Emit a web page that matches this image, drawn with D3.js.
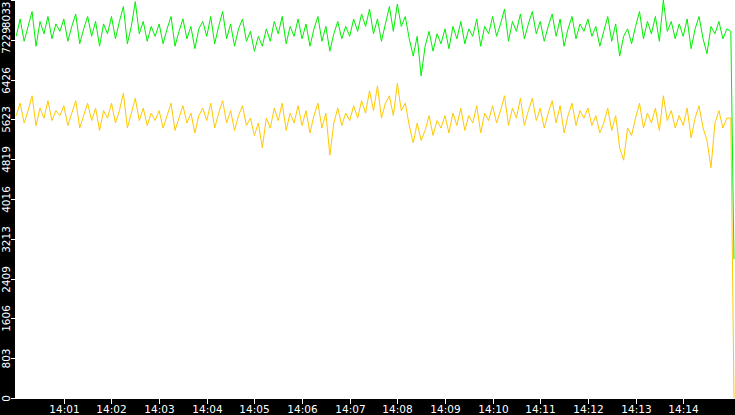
<!DOCTYPE html><html><head><meta charset="utf-8"><script src="https://cdn.jsdelivr.net/npm/d3@7"></script>
<style>body{margin:0;background:#fff}svg{display:block}</style></head><body><svg id="c" width="735" height="415"></svg><script>
const startTime = "14:00:00";
const stepSeconds = 5;
const greenValues = [
7300,7650,7200,7500,7800,7100,7600,7350,7700,7250,7550,7400,
7650,7200,7500,7750,7150,7450,7700,7300,7600,7100,7550,7350,
7700,7250,7600,7900,7150,7500,8000,7350,7600,7200,7500,7300,
7550,7150,7450,7700,7100,7400,7650,7250,7500,7050,7450,7600,
7300,7700,7150,7500,7800,7250,7550,7100,7450,7650,7200,7400,
7000,7300,7100,7450,7200,7600,7350,7700,7150,7500,7300,7650,
7250,7550,7100,7450,7700,7200,7500,7000,7350,7600,7250,7500,
7300,7650,7400,7750,7500,7850,7350,7650,7200,7550,7900,7400,
7950,7500,7700,7250,6900,7300,6500,7100,7400,7000,7350,7150,
7450,7050,7500,7250,7600,7150,7450,7300,7650,7100,7500,7350,
7700,7300,7550,7850,7200,7600,7400,7750,7250,7550,7800,7350,
7600,7200,7500,7750,7300,7650,7100,7450,7700,7250,7550,7400,
7650,7300,7500,7100,7400,7700,7200,7550,6900,7300,7450,7150,
7500,7800,7250,7600,7350,7700,7200,8030,7400,7600,7250,7550,
7300,7650,7050,7450,7700,7250,6950,7500,7350,7600,7250,7450,
7400];
const yellowValues = [
5700,5950,5550,5800,6100,5500,5850,5650,6000,5600,5800,5700,
5900,5500,5750,6000,5450,5700,5950,5600,5850,5400,5800,5650,
5950,5550,5800,6150,5450,5750,6050,5600,5850,5500,5750,5600,
5800,5450,5700,5950,5400,5650,5900,5550,5750,5350,5700,5850,
5600,5950,5450,5750,6000,5550,5800,5400,5700,5900,5500,5650,
5300,5550,5050,5650,5450,5850,5600,5950,5400,5750,5550,5900,
5500,5800,5350,5700,5950,5450,5750,4900,5550,5850,5500,5750,
5600,5900,5650,6000,5750,6200,5800,6300,5650,5950,6100,5700,
6350,5800,5950,5500,5150,5550,5200,5400,5700,5300,5600,5450,
5700,5350,5750,5500,5850,5400,5700,5550,5900,5350,5750,5600,
5900,5550,5800,6100,5500,5850,5650,6050,5500,5800,6050,5600,
5850,5450,5750,6000,5550,5900,5350,5700,5950,5500,5800,5650,
5850,5500,5700,5350,5550,5850,5400,5700,5050,4800,5450,5300,
5650,5950,5450,5750,5550,5850,5400,6100,5600,5800,5450,5700,
5500,5850,5250,5650,5900,5450,5200,4650,5550,5800,5450,5650,
5650];
const finalTime = "14:15:04";
const greenFinal = 2800;
const yellowFinal = 0;
const yTickLabels = ["0","803","1606","2409","3213","4016","4819","5623","6426","7229","8033"];
const xTickLabels = ["14:01","14:02","14:03","14:04","14:05","14:06","14:07","14:08","14:09","14:10","14:11","14:12","14:13","14:14"];

const W=735,H=415,L=15,B=399;
const parse=d3.timeParse("%H:%M:%S");
const t0=parse(startTime), tEnd=parse(finalTime);
const mk=(vals,fin)=>vals.map((v,i)=>({t:new Date(+t0+i*stepSeconds*1000),v})).concat([{t:tEnd,v:fin}]);
const x=d3.scaleTime().domain([new Date(+t0-1500),tEnd]).range([L,W-1]);
const y=d3.scaleLinear().domain([0,8033]).range([B-1,0]);
const svg=d3.select("#c");
const line=d3.line().x(d=>x(d.t)).y(d=>y(d.v));
svg.append("path").datum(mk(yellowValues,yellowFinal)).attr("d",line).attr("fill","none").attr("stroke","#ffc800").attr("stroke-width",1);
svg.append("path").datum(mk(greenValues,greenFinal)).attr("d",line).attr("fill","none").attr("stroke","#00ee00").attr("stroke-width",1);
svg.append("rect").attr("x",0).attr("y",0).attr("width",L).attr("height",H).attr("fill","#000");
svg.append("rect").attr("x",0).attr("y",B).attr("width",W).attr("height",H-B).attr("fill","#000");
const font="DejaVu Sans";
yTickLabels.forEach((lab,i)=>{
  const yy=Math.round(y(+lab))+0.5;
  const last=i===yTickLabels.length-1;
  svg.append("line").attr("x1",11).attr("x2",L).attr("y1",yy).attr("y2",yy).attr("stroke","#fff");
  svg.append("text").attr("transform",`translate(10,${last?yy+1:yy}) rotate(-90)`).attr("text-anchor",last?"end":"middle")
    .attr("fill","#fff").attr("font-family",font).attr("font-size",10.5).text(lab);
});
xTickLabels.forEach(lab=>{
  const xx=Math.round(x(parse(lab+":00")))+0.5;
  svg.append("line").attr("x1",xx).attr("x2",xx).attr("y1",B).attr("y2",B+5).attr("stroke","#fff");
  svg.append("text").attr("x",xx).attr("y",413).attr("text-anchor","middle").attr("fill","#fff")
    .attr("font-family",font).attr("font-size",10.5).text(lab);
});
</script></body></html>
